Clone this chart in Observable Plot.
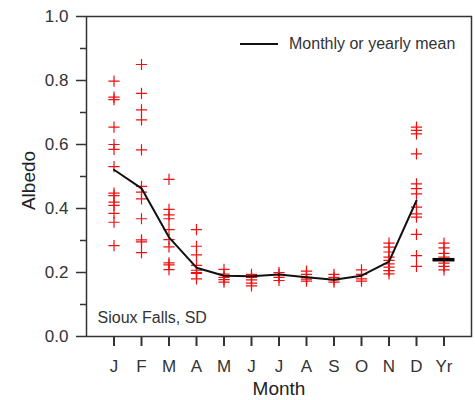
<!DOCTYPE html>
<html>
<head>
<meta charset="utf-8">
<script src="https://cdn.jsdelivr.net/npm/d3@7"></script>
<script src="https://cdn.jsdelivr.net/npm/@observablehq/plot@0.6"></script>
<style>
  html, body { margin: 0; padding: 0; background: #fff; }
  #wrap { position: relative; width: 475px; height: 400px; font-family: "Liberation Sans", Arial, sans-serif; }
  #legend { position: absolute; left: 240px; top: 35px; display: flex; align-items: center; font-size: 16px; color: #333; white-space: nowrap; }
  #legend svg { margin-right: 11px; }
</style>
</head>
<body>
<div id="wrap">
  <div id="chart"></div>
  <div id="legend"><svg width="38" height="4"><line x1="0" y1="2" x2="38" y2="2" stroke="#111" stroke-width="2"/></svg><span>Monthly or yearly mean</span></div>
</div>
<script>
const monthLabels = ["J","F","M","A","M","J","J","A","S","O","N","D","Yr"];

const janValues = [0.798, 0.748, 0.740, 0.654, 0.600, 0.585, 0.531, 0.448, 0.440, 0.420, 0.410, 0.385, 0.357, 0.284];
const febValues = [0.850, 0.760, 0.708, 0.677, 0.583, 0.469, 0.451, 0.430, 0.368, 0.302, 0.296, 0.262];
const marValues = [0.491, 0.397, 0.380, 0.368, 0.334, 0.303, 0.280, 0.230, 0.224, 0.209];
const aprValues = [0.334, 0.282, 0.255, 0.222, 0.207, 0.200, 0.197, 0.180];
const mayValues = [0.210, 0.195, 0.185, 0.178, 0.170];
const junValues = [0.194, 0.185, 0.177, 0.167, 0.158];
const julValues = [0.200, 0.194, 0.185, 0.175];
const augValues = [0.204, 0.194, 0.185, 0.179, 0.173];
const sepValues = [0.194, 0.185, 0.177, 0.170];
const octValues = [0.208, 0.194, 0.180, 0.173];
const novValues = [0.292, 0.279, 0.264, 0.248, 0.238, 0.227, 0.217, 0.206, 0.196];
const decValues = [0.654, 0.644, 0.633, 0.571, 0.477, 0.462, 0.446, 0.404, 0.383, 0.373, 0.319, 0.253, 0.219];
const yrValues  = [0.292, 0.277, 0.260, 0.248, 0.238, 0.229, 0.219, 0.208];

const monthlyMeans = [0.521, 0.463, 0.310, 0.215, 0.190, 0.188, 0.194, 0.185, 0.177, 0.190, 0.234, 0.425];
const yearlyMean = 0.240;

const yMajorTicks = [0, 0.2, 0.4, 0.6, 0.8, 1.0];
const yMinorTicks = [0.1, 0.3, 0.5, 0.7, 0.9];

const groups = [janValues, febValues, marValues, aprValues, mayValues, junValues, julValues,
                augValues, sepValues, octValues, novValues, decValues, yrValues];
const points = groups.flatMap((vals, i) => vals.map(v => ({pos: i + 1, value: v})));
const means = monthlyMeans.map((v, i) => ({pos: i + 1, value: v}));

const chart = Plot.plot({
  width: 475,
  height: 400,
  marginLeft: 86,
  marginRight: 4,
  marginTop: 16,
  marginBottom: 64,
  style: {fontFamily: "Liberation Sans, Arial, sans-serif", fontSize: "16px", color: "#333", background: "#fff"},
  x: {domain: [0, 14]},
  y: {domain: [0, 1]},
  marks: [
    Plot.frame({stroke: "#333", strokeWidth: 1.5}),
    Plot.axisX({ticks: d3.range(1, 14), tickFormat: d => monthLabels[d - 1], tickSize: 10, tickPadding: 13, strokeWidth: 2, fontSize: 17, label: null}),
    Plot.axisY({ticks: yMajorTicks, tickFormat: d3.format(".1f"), tickSize: 10, tickPadding: 8, strokeWidth: 1.5, fontSize: 17, label: null}),
    Plot.axisY({ticks: yMinorTicks, tickFormat: () => "", tickSize: 6, strokeWidth: 1.5, label: null}),
    Plot.dot(points, {x: "pos", y: "value", symbol: "plus", r: 3.7, stroke: "#ee1111", strokeWidth: 1.2}),
    Plot.line(means, {x: "pos", y: "value", stroke: "#111", strokeWidth: 2}),
    Plot.ruleY([yearlyMean], {x1: 12.6, x2: 13.4, stroke: "#000", strokeWidth: 3.5}),
    Plot.text(["Albedo"], {frameAnchor: "left", textAnchor: "middle", lineAnchor: "middle", dx: -58, dy: 4, rotate: -90, fontSize: 19, fill: "#222"}),
    Plot.text(["Month"], {frameAnchor: "bottom", dy: 58, fontSize: 19, fill: "#222"}),
    Plot.text(["Sioux Falls, SD"], {frameAnchor: "bottom-left", dx: 11, dy: -14, textAnchor: "start", fontSize: 16, fill: "#333"})
  ]
});
document.getElementById("chart").appendChild(chart);
</script>
</body>
</html>
